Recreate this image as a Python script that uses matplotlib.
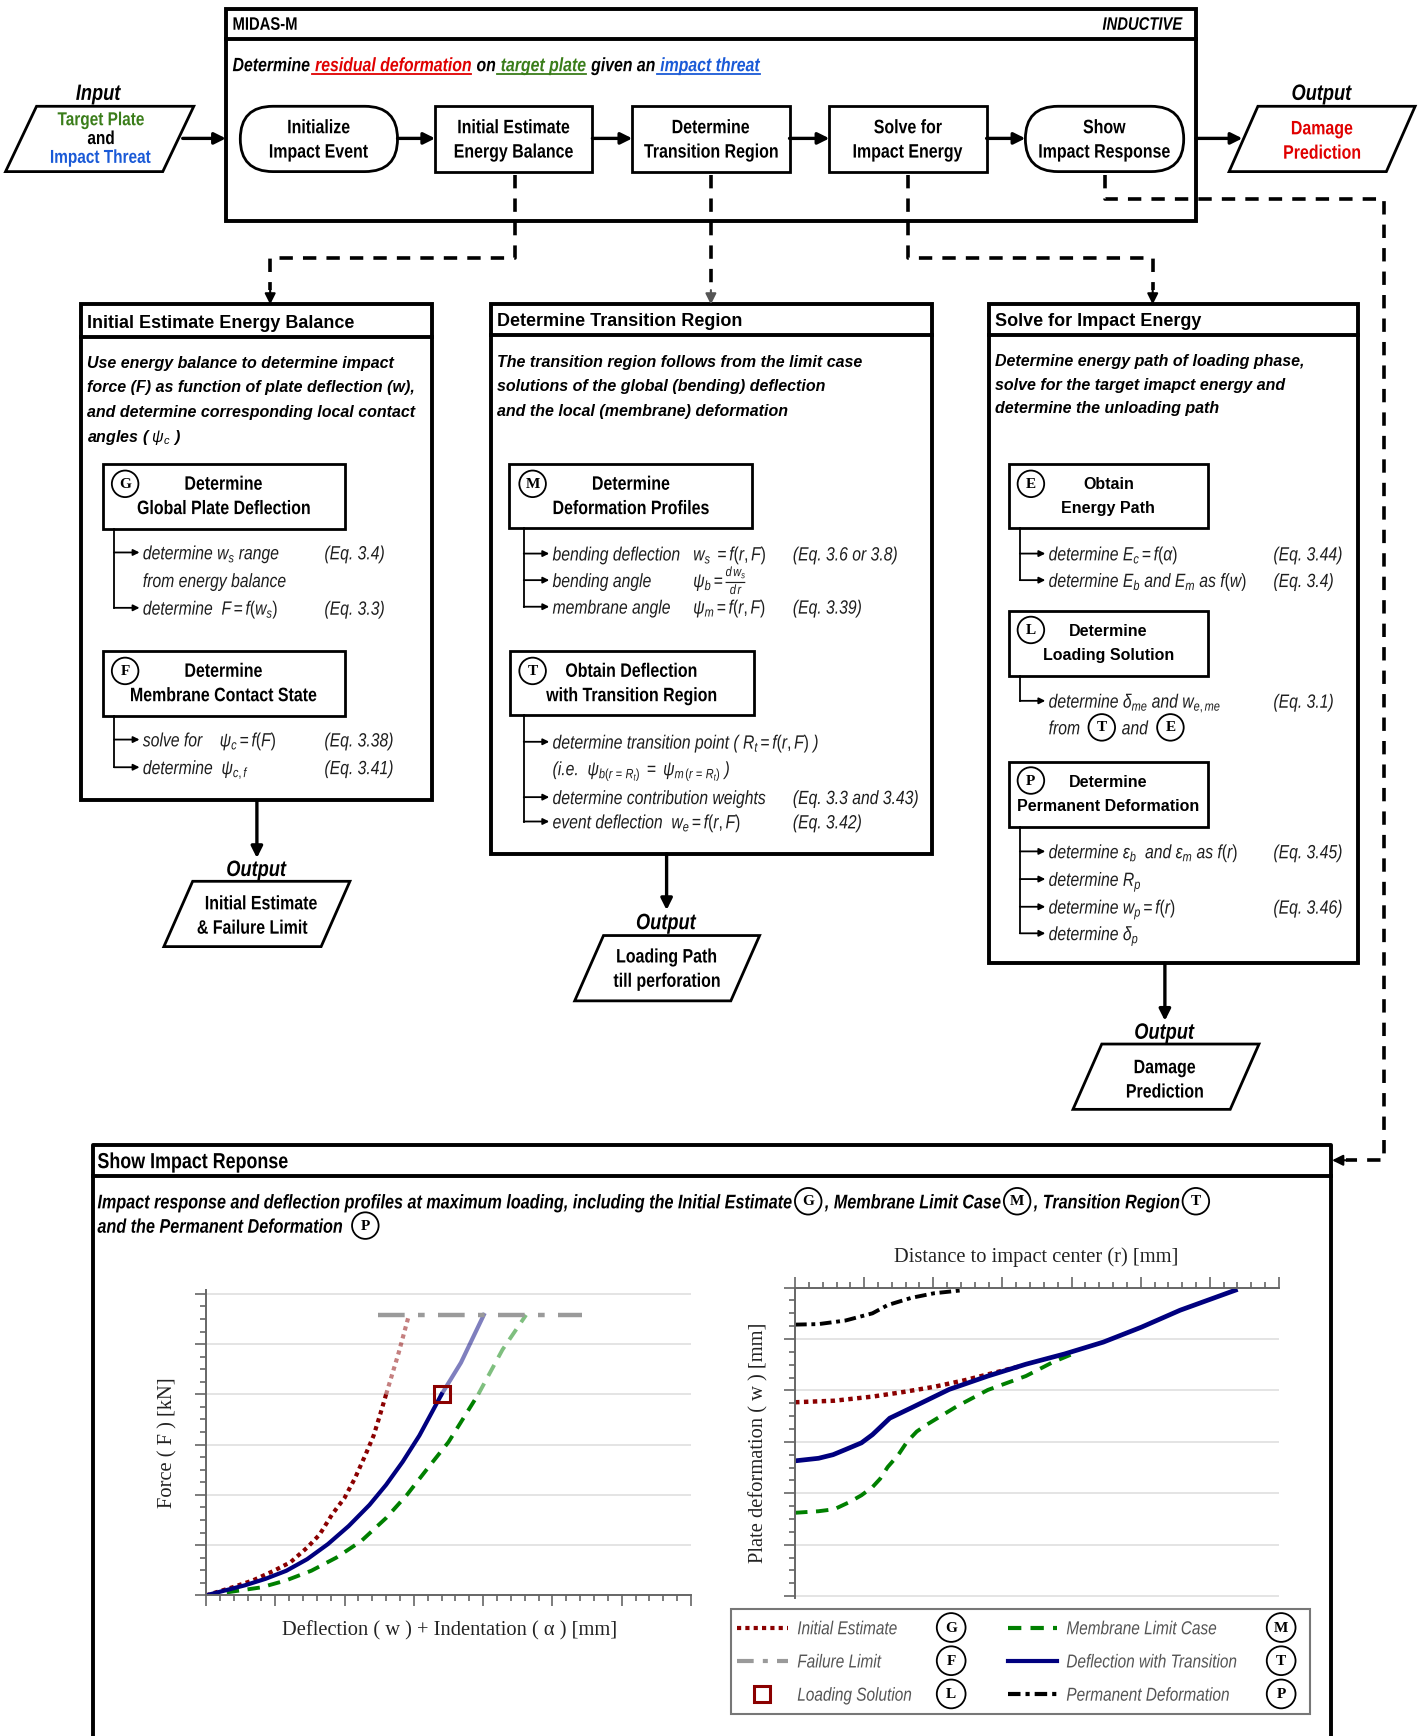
import matplotlib
matplotlib.use('Agg')
import matplotlib.pyplot as plt
import numpy as np
from matplotlib.font_manager import FontProperties
from matplotlib.textpath import TextPath
from matplotlib.transforms import Affine2D
from matplotlib.patches import Rectangle, Polygon, FancyBboxPatch, Circle, PathPatch
from matplotlib.ticker import MultipleLocator

# ---- values (no units given, axis scale 0..7 / 0..6) ----
# left plot: force vs deflection + indentation
ie_defl = [0, 0.38, 0.68, 0.98, 1.22, 1.46, 1.64, 1.82, 2.0, 2.15, 2.30, 2.42, 2.51, 2.60, 2.78, 2.93]
ie_force = [0, 0.16, 0.30, 0.49, 0.66, 0.95, 1.21, 1.61, 1.94, 2.33, 2.79, 3.18, 3.58, 4.0, 4.82, 5.58]
tr_defl = [0, 0.56, 0.86, 1.16, 1.46, 1.76, 2.06, 2.36, 2.60, 2.84, 3.08, 3.26, 3.40, 3.68, 4.01]
tr_force = [0, 0.20, 0.33, 0.49, 0.72, 1.02, 1.38, 1.80, 2.20, 2.66, 3.18, 3.64, 4.0, 4.63, 5.58]
ml_defl = [0, 0.80, 1.16, 1.52, 1.88, 2.24, 2.60, 2.90, 3.20, 3.50, 3.74, 3.93, 4.28, 4.62]
ml_force = [0, 0.16, 0.30, 0.49, 0.75, 1.08, 1.54, 2.0, 2.53, 3.05, 3.58, 4.0, 4.89, 5.58]
fail_defl = [2.49, 5.43]
fail_force = [5.58, 5.58]
load_defl, load_force = 3.40, 4.0

# right plot: plate deformation w vs distance r
pd_r = [0, 0.34, 0.73, 1.12, 1.34, 1.68, 2.01, 2.43]
pd_w = [0.72, 0.71, 0.64, 0.50, 0.34, 0.20, 0.11, 0.05]
ie_r = [0, 0.57, 1.12, 1.57, 2.01, 2.46, 2.90, 3.29]
ie_w = [2.23, 2.20, 2.12, 2.03, 1.93, 1.80, 1.65, 1.52]
tr_r = [0, 0.34, 0.55, 0.73, 0.96, 1.12, 1.23, 1.37, 1.68, 2.23, 2.79, 3.34, 3.90, 4.46, 5.01, 5.57, 6.37]
tr_w = [3.37, 3.32, 3.25, 3.15, 3.02, 2.86, 2.72, 2.54, 2.34, 1.98, 1.72, 1.49, 1.29, 1.06, 0.77, 0.44, 0.05]
ml_r = [0, 0.34, 0.57, 0.79, 0.96, 1.12, 1.23, 1.34, 1.49, 1.62, 1.76, 1.90, 2.34, 2.79, 3.34, 3.73, 4.07]
ml_w = [4.38, 4.35, 4.31, 4.17, 4.04, 3.88, 3.72, 3.49, 3.26, 3.00, 2.80, 2.67, 2.31, 1.99, 1.72, 1.45, 1.26]

# ---- fonts ----
SANS = 'Liberation Sans'
SERIF = 'Liberation Serif'
plt.rcParams['mathtext.fontset'] = 'custom'
plt.rcParams['mathtext.rm'] = SANS
plt.rcParams['mathtext.it'] = SANS + ':italic'
plt.rcParams['mathtext.bf'] = SANS + ':bold'

RED_T, GREEN_T, BLUE_T = '#e00000', '#3a7d1a', '#1a5ad7'
C_IE, C_TR, C_ML, C_FL, C_PD = '#8b0000', '#00007f', '#008000', '#9a9a9a', '#000000'
ITEM = '#1e1e1e'
LS_IE = (0, (1, 1))
LS_ML = (0, (3.2, 2.2))
LS_FL = (0, (6, 3, 1.5, 3))
LS_FL_LEG = (0, (4, 2.2, 1.2, 2.2))
LS_PD = (0, (3, 1.2, 1, 1.2))

W, H = 1286, 1568
fig = plt.figure(figsize=(14.24, 17.36), dpi=100)
ax = fig.add_axes([0, 0, 1, 1])
ax.set_xlim(0, W)
ax.set_ylim(H, 0)
ax.set_autoscale_on(False)
ax.axis('off')
PX = 1424 / W
PT = (100 / 72) / PX     # drawing units per point
SX = 0.82                # narrow (condensed) width factor


def frect(x0, y0, x1, y1):
    return [x0 / W, 1 - y1 / H, (x1 - x0) / W, (y1 - y0) / H]


def stext(x, y, s, size=12, bold=False, italic=False, fam=SANS, color='black', ha='left', va='center_baseline', **kw):
    return ax.text(x, y, s, fontsize=size, family=fam, color=color, ha=ha, va=va,
                   fontweight='bold' if bold else 'normal',
                   fontstyle='italic' if italic else 'normal', **kw)


def ntext(x, y, s, size=14, bold=False, italic=False, color='black', ha='left'):
    # condensed sans text, drawn as a horizontally squeezed text path
    fp = FontProperties(family=SANS, weight='bold' if bold else 'normal',
                        style='italic' if italic else 'normal')
    tp = TextPath((0, 0), s, size=size, prop=fp)
    bb = tp.get_extents()
    k = SX * PT
    if ha == 'center':
        off = -(bb.x0 + bb.x1) / 2 * k
    elif ha == 'right':
        off = -bb.x1 * k
    else:
        off = 0
    tr = Affine2D().scale(k, -PT).translate(x + off, y + 0.36 * size * PT)
    ax.add_patch(PathPatch(tr.transform_path(tp), fc=color, ec='none', lw=0))
    return bb.x1 * k


def badge(x, y, letter, r=12, size=11):
    ax.add_patch(Circle((x, y), r, fc='white', ec='black', lw=1.3, zorder=3))
    ax.text(x, y + 0.5, letter, family=SERIF, fontweight='bold', fontsize=size,
            ha='center', va='center', zorder=4)


def seq(x, y, parts, gap=5, **base):
    for p in parts:
        if p[0] == '@':
            badge(x + 12, y, p[1])
            x += 24 + gap
            continue
        s, opts = p
        o = dict(base)
        o.update(opts)
        ul = o.pop('underline', False)
        w = ntext(x, y, s, **o)
        if ul:
            ax.plot([x - 3, x + w], [y + 9, y + 9], color=o.get('color', 'black'), lw=1.3)
        x += w + gap
    return x


def box(x0, y0, x1, y1, lw=2.0):
    ax.add_patch(Rectangle((x0, y0), x1 - x0, y1 - y0, fill=False, ec='black', lw=lw, joinstyle='miter'))


def stadium(x0, y0, x1, y1, lw=2.0):
    r = (y1 - y0) / 2
    ax.add_patch(FancyBboxPatch((x0, y0), x1 - x0, y1 - y0, boxstyle=f'round,pad=0,rounding_size={r}',
                                fill=False, ec='black', lw=lw))


def para(x0, y0, x1, y1, s=26, lw=2.0):
    ax.add_patch(Polygon([(x0 + s, y0), (x1, y0), (x1 - s, y1), (x0, y1)], closed=True,
                         fill=False, ec='black', lw=lw))


def arrow(x0, y0, x1, y1, lw=2.4, ms=17, color='black'):
    ax.annotate('', xy=(x1, y1), xytext=(x0, y0),
                arrowprops=dict(arrowstyle='-|>', lw=lw, color=color, mutation_scale=ms,
                                shrinkA=0, shrinkB=0))


def dashed(xs, ys):
    ax.plot(xs, ys, color='black', lw=2.6, dashes=(3.7, 2.8), solid_capstyle='butt')


def bracket(x, y0, ys):
    ax.plot([x, x], [y0, ys[-1]], color='black', lw=1.3)
    for y in ys:
        arrow(x, y, x + 23, y, lw=1.3, ms=9)


def item(x, y, s, color=ITEM):
    return ntext(x, y, s, 13.8, italic=True, color=color)


# ---- top: MIDAS-M process ----
box(204, 8, 1080, 200, lw=2.8)
ax.plot([204, 1080], [35, 35], color='black', lw=2.8)
ntext(210, 21, 'MIDAS-M', 13, bold=True)
ntext(1068, 21, 'INDUCTIVE', 13, bold=True, italic=True, ha='right')
seq(210, 58, [('Determine', {}),
              ('residual deformation', {'color': RED_T, 'underline': True}),
              ('on', {}),
              ('target plate', {'color': GREEN_T, 'underline': True}),
              ('given an', {}),
              ('impact threat', {'color': BLUE_T, 'underline': True})],
    gap=5, size=13.9, bold=True, italic=True)

PROC = [('Initialize', 'Impact Event', 217, 359, 'stadium'),
        ('Initial Estimate', 'Energy Balance', 393, 535, 'rect'),
        ('Determine', 'Transition Region', 571, 713, 'rect'),
        ('Solve for', 'Impact Energy', 749, 891, 'rect'),
        ('Show', 'Impact Response', 926, 1069, 'stadium')]
for l1, l2, x0, x1, kind in PROC:
    if kind == 'stadium':
        stadium(x0, 96, x1, 155)
    else:
        box(x0, 96, x1, 155)
    cx = (x0 + x1) / 2
    ntext(cx, 114, l1, 14, bold=True, ha='center')
    ntext(cx, 136, l2, 14, bold=True, ha='center')
for xa, xb in [(359, 393), (535, 571), (713, 749), (891, 926), (165, 204), (1080, 1122)]:
    arrow(xa, 125, xb, 125)

# input / output parallelograms
para(5, 96, 175, 155, s=28)
ntext(89, 83, 'Input', 16, bold=True, italic=True, ha='center')
ntext(91, 107, 'Target Plate', 13.5, bold=True, color=GREEN_T, ha='center')
ntext(91, 124, 'and', 13.5, bold=True, ha='center')
ntext(91, 141, 'Impact Threat', 13.5, bold=True, color=BLUE_T, ha='center')
para(1110, 96, 1278, 155, s=26)
ntext(1194, 83, 'Output', 16, bold=True, italic=True, ha='center')
ntext(1194, 115, 'Damage', 14, bold=True, color=RED_T, ha='center')
ntext(1194, 137, 'Prediction', 14, bold=True, color=RED_T, ha='center')

# dashed connectors
dashed([465, 465, 244, 244], [158, 233, 233, 262])
arrow(244, 262, 244, 275, lw=1.5, ms=16)
dashed([642, 642], [158, 262])
arrow(642, 262, 642, 275, lw=1.5, ms=16, color='#555555')
dashed([820, 820, 1041, 1041], [158, 233, 233, 262])
arrow(1041, 262, 1041, 275, lw=1.5, ms=16)
dashed([998, 998, 1250, 1250, 1216], [158, 180, 180, 1048, 1048])
arrow(1216, 1048, 1203, 1048, lw=1.5, ms=16)

# ---- left column ----
box(73, 275, 390, 723, lw=2.8)
ax.plot([73, 390], [304, 304], color='black', lw=2.8)
stext(79, 290, 'Initial Estimate Energy Balance', 13, bold=True)
for i, s in enumerate(['Use energy balance to determine impact',
                       'force (F) as function of plate deflection (w),',
                       'and determine corresponding local contact',
                       r'angles ( $\psi_c$ )']):
    stext(79, 327 + 22 * i, s, 11.5, bold=True, italic=True)
box(93, 419, 312, 478)
badge(113, 437, 'G')
ntext(202, 436, 'Determine', 14, bold=True, ha='center')
ntext(202, 458, 'Global Plate Deflection', 14, bold=True, ha='center')
bracket(103, 478, [499, 549])
item(129, 499, r'determine $w_s$ range')
item(293, 499, '(Eq. 3.4)')
item(129, 524, 'from energy balance')
item(129, 549, r'determine  $F = f(w_s)$')
item(293, 549, '(Eq. 3.3)')
box(93, 588, 312, 647)
badge(113, 606, 'F')
ntext(202, 605, 'Determine', 14, bold=True, ha='center')
ntext(202, 627, 'Membrane Contact State', 14, bold=True, ha='center')
bracket(103, 647, [668, 693])
item(129, 668, r'solve for    $\psi_c = f(F)$')
item(293, 668, '(Eq. 3.38)')
item(129, 693, r'determine  $\psi_{c,f}$')
item(293, 693, '(Eq. 3.41)')
arrow(232, 723, 232, 775)
ntext(232, 784, 'Output', 16, bold=True, italic=True, ha='center')
para(148, 796, 316, 855)
ntext(236, 815, 'Initial Estimate', 14, bold=True, ha='center')
ntext(228, 837, '& Failure Limit', 14, bold=True, ha='center')

# ---- middle column ----
box(443, 275, 842, 771, lw=2.8)
ax.plot([443, 842], [303, 303], color='black', lw=2.8)
stext(449, 289, 'Determine Transition Region', 13, bold=True)
for i, s in enumerate(['The transition region follows from the limit case',
                       'solutions of the global (bending) deflection',
                       'and the local (membrane) deformation']):
    stext(449, 326 + 22 * i, s, 11.5, bold=True, italic=True)
box(460, 419, 679, 477)
badge(481, 437, 'M')
ntext(570, 436, 'Determine', 14, bold=True, ha='center')
ntext(570, 458, 'Deformation Profiles', 14, bold=True, ha='center')
bracket(473, 477, [500, 524, 548])
item(499, 500, 'bending deflection')
item(626, 500, r'$w_s\ = f(r,F)$')
item(716, 500, '(Eq. 3.6 or 3.8)')
item(499, 524, 'bending angle')
item(626, 524, r'$\psi_b = \frac{d\,w_s}{d\,r}$')
item(499, 548, 'membrane angle')
item(626, 548, r'$\psi_m = f(r,F)$')
item(716, 548, '(Eq. 3.39)')
box(461, 588, 681, 646)
badge(481, 606, 'T')
ntext(570, 605, 'Obtain Deflection', 14, bold=True, ha='center')
ntext(570, 627, 'with Transition Region', 14, bold=True, ha='center')
bracket(473, 646, [670, 720, 742])
item(499, 670, r'determine transition point ( $R_t = f(r,F)$ )')
item(499, 694, r'(i.e.  $\psi_{b(r\,=\,R_t)}\ =\ \psi_{m\,(r\,=\,R_t)}$ )')
item(499, 720, 'determine contribution weights')
item(716, 720, '(Eq. 3.3 and 3.43)')
item(499, 742, r'event deflection  $w_e = f(r,F)$')
item(716, 742, '(Eq. 3.42)')
arrow(602, 771, 602, 822)
ntext(602, 832, 'Output', 16, bold=True, italic=True, ha='center')
para(519, 845, 686, 904)
ntext(602, 863, 'Loading Path', 14, bold=True, ha='center')
ntext(602, 885, 'till perforation', 14, bold=True, ha='center')

# ---- right column ----
box(893, 275, 1226, 870, lw=2.8)
ax.plot([893, 1226], [303, 303], color='black', lw=2.8)
stext(899, 289, 'Solve for Impact Energy', 13, bold=True)
for i, s in enumerate(['Determine energy path of loading phase,',
                       'solve for the target imapct energy and',
                       'determine the unloading path']):
    stext(899, 325 + 21.5 * i, s, 11.5, bold=True, italic=True)
box(911, 419, 1091, 477)
badge(931, 437, 'E')
stext(1001, 436, 'Obtain', 11.5, bold=True, ha='center')
stext(1001, 458, 'Energy Path', 11.5, bold=True, ha='center')
bracket(921, 477, [500, 524])
item(947, 500, r'determine $E_c = f(\alpha)$')
item(1150, 500, '(Eq. 3.44)')
item(947, 524, r'determine $E_b$ and $E_m$ as $f(w)$')
item(1150, 524, '(Eq. 3.4)')
box(911, 552, 1091, 611)
badge(931, 569, 'L')
stext(1001, 569, 'Determine', 11.5, bold=True, ha='center')
stext(1001, 591, 'Loading Solution', 11.5, bold=True, ha='center')
bracket(921, 611, [633])
item(947, 633, r'determine $\delta_{me}$ and $w_{e,me}$')
item(1150, 633, '(Eq. 3.1)')
item(947, 657, 'from')
badge(995, 657, 'T')
item(1013, 657, 'and')
badge(1057, 657, 'E')
box(911, 688, 1091, 747)
badge(931, 705, 'P')
stext(1001, 705, 'Determine', 11.5, bold=True, ha='center')
stext(1001, 727, 'Permanent Deformation', 11.5, bold=True, ha='center')
bracket(921, 747, [769, 794, 819, 843])
item(947, 769, r'determine $\varepsilon_b$  and $\varepsilon_m$ as $f(r)$')
item(1150, 769, '(Eq. 3.45)')
item(947, 794, r'determine $R_p$')
item(947, 819, r'determine $w_p = f(r)$')
item(1150, 819, '(Eq. 3.46)')
item(947, 843, r'determine $\delta_p$')
arrow(1052, 870, 1052, 922)
ntext(1052, 931, 'Output', 16, bold=True, italic=True, ha='center')
para(969, 943, 1137, 1002)
ntext(1052, 963, 'Damage', 14, bold=True, ha='center')
ntext(1052, 985, 'Prediction', 14, bold=True, ha='center')

# ---- bottom: show impact response ----
ax.plot([84, 84, 1202, 1202], [H + 5, 1034, 1034, H + 5], color='black', lw=2.8)
ax.plot([84, 1202], [1062, 1062], color='black', lw=2.8)
ntext(88, 1048, 'Show Impact Reponse', 15.7, bold=True)
seq(88, 1085, [('Impact response and deflection profiles at maximum loading, including the Initial Estimate', {}),
               ('@', 'G'), (', Membrane Limit Case', {}), ('@', 'M'),
               (', Transition Region', {}), ('@', 'T')],
    gap=3, size=14.2, bold=True, italic=True)
seq(88, 1107, [('and the Permanent Deformation', {}), ('@', 'P')], gap=9, size=14.2, bold=True, italic=True)

stext(936, 1133, 'Distance to impact center (r) [mm]', 14.8, fam=SERIF, color='#222', ha='center')
stext(685, 1303, 'Plate deformation ( w ) [mm]', 14.8, fam=SERIF, color='#222', ha='center', va='center', rotation=90)
stext(152, 1303, 'Force ( F ) [kN]', 14.8, fam=SERIF, color='#222', ha='center', va='center', rotation=90)
stext(406, 1471, 'Deflection ( w ) + Indentation ( \u03b1 ) [mm]', 14.8, fam=SERIF, color='#222', ha='center')


def style_axes(a, sides):
    a.patch.set_alpha(0)
    for sp in ['top', 'bottom', 'left', 'right']:
        a.spines[sp].set_visible(sp in sides)
        a.spines[sp].set_color('#666666')
        a.spines[sp].set_linewidth(1.4)
    a.xaxis.set_major_locator(MultipleLocator(1))
    a.xaxis.set_minor_locator(MultipleLocator(0.2))
    a.yaxis.set_major_locator(MultipleLocator(1))
    a.yaxis.set_minor_locator(MultipleLocator(0.25))
    a.tick_params(which='both', direction='out', color='#666666', width=1.2,
                  labelleft=False, labelbottom=False, labeltop=False)
    a.tick_params(which='major', length=8)
    a.tick_params(which='minor', length=4.5)
    a.grid(axis='y', which='major', color='#e2e2e2', lw=1.3)
    a.set_axisbelow(True)


def split_plot(a, xs, ys, lim, color, **kw):
    xs, ys = np.asarray(xs), np.asarray(ys)
    lo, hi = ys <= lim, ys >= lim
    a.plot(xs[lo], ys[lo], color=color, **kw)
    a.plot(xs[hi], ys[hi], color=color, alpha=0.5, **kw)


axL = fig.add_axes(frect(186, 1165, 624, 1441))
axL.set_xlim(0, 7)
axL.set_ylim(0, 6.08)
style_axes(axL, ['left', 'bottom'])
split_plot(axL, ml_defl, ml_force, load_force, C_ML, lw=2.8, ls=LS_ML)
split_plot(axL, ie_defl, ie_force, load_force, C_IE, lw=3.0, ls=LS_IE)
split_plot(axL, tr_defl, tr_force, load_force, C_TR, lw=3.0)
axL.plot(fail_defl, fail_force, color=C_FL, lw=3.2, ls=LS_FL)
axL.plot([load_defl], [load_force], marker='s', ms=11, mfc='none', mec=C_IE, mew=2.2, ls='none')

axR = fig.add_axes(frect(718, 1163, 1155, 1443))
axR.set_xlim(0, 7)
axR.set_ylim(6.03, 0)
axR.xaxis.tick_top()
style_axes(axR, ['left', 'top'])
axR.plot(pd_r, pd_w, color=C_PD, lw=2.8, ls=LS_PD)
axR.plot(ml_r, ml_w, color=C_ML, lw=2.8, ls=LS_ML)
axR.plot(ie_r, ie_w, color=C_IE, lw=3.2, ls=LS_IE)
axR.plot(tr_r, tr_w, color=C_TR, lw=3.4)

# ---- legend ----
ax.add_patch(Rectangle((660, 1453), 523, 95, fill=False, ec='#777777', lw=1.5))
LEG = [(1470, C_IE, LS_IE, 'Initial Estimate', 'G', C_ML, LS_ML, 'Membrane Limit Case', 'M'),
       (1500, C_FL, LS_FL_LEG, 'Failure Limit', 'F', C_TR, '-', 'Deflection with Transition', 'T'),
       (1530, None, None, 'Loading Solution', 'L', C_PD, LS_PD, 'Permanent Deformation', 'P')]
for y, c1, l1, t1, b1, c2, l2, t2, b2 in LEG:
    if c1 is None:
        ax.plot([688], [y], marker='s', ms=11, mfc='none', mec=C_IE, mew=2.2, ls='none')
    else:
        ax.plot([666, 712], [y, y], color=c1, lw=3.0, ls=l1)
    ntext(720, y, t1, 13.5, italic=True, color='#555555')
    badge(859, y, b1, r=13)
    ax.plot([910, 955], [y, y], color=c2, lw=3.0, ls=l2)
    ntext(963, y, t2, 13.5, italic=True, color='#555555')
    badge(1157, y, b2, r=13)

fig.savefig('out.png', dpi=100)
